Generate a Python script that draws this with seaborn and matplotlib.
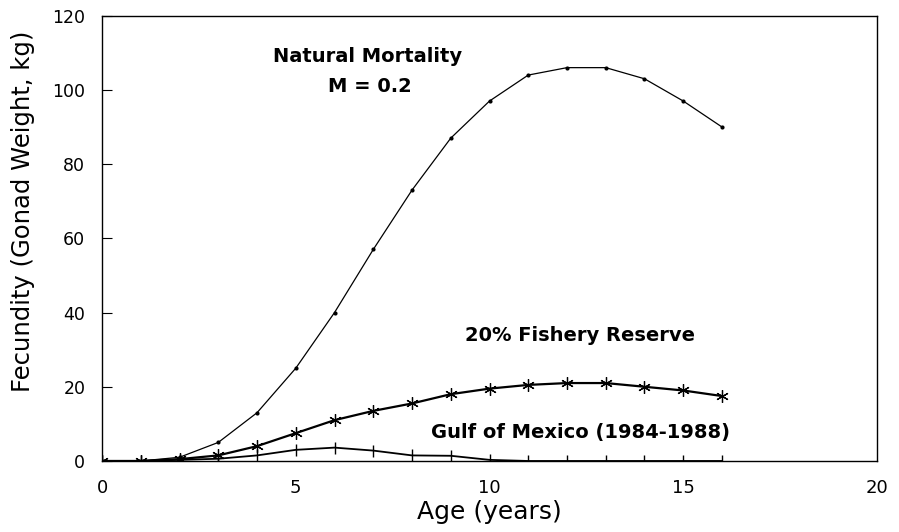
import numpy as np
import pandas as pd
import matplotlib
matplotlib.use("Agg")
import matplotlib.pyplot as plt
import seaborn as sns

# Ages 0-16 (years)
age = list(range(17))

# Fecundity (gonad weight, kg)
natural_mortality = [0, 0, 1, 5, 13, 25, 40, 57, 73, 87, 97, 104, 106, 106, 103, 97, 90]
fishery_reserve = [0, 0, 0.5, 1.5, 4, 7.5, 11, 13.5, 15.5, 18, 19.5, 20.5, 21, 21, 20, 19, 17.5]
gulf_of_mexico = [0, 0, 0.3, 0.6, 1.5, 3, 3.6, 2.8, 1.5, 1.4, 0.3, 0, 0, 0, 0, 0, 0]

x_ticks = [0, 5, 10, 15, 20]
y_ticks = [0, 20, 40, 60, 80, 100, 120]

sns.set_theme(style="white")
plt.rcParams["font.family"] = ["DejaVu Sans"]
plt.rcParams["text.color"] = "black"

fig = plt.figure(figsize=(8.99, 5.32), dpi=100)
ax = fig.add_axes([0.1135, 0.1335, 0.862, 0.837])

sns.lineplot(x=age, y=natural_mortality, ax=ax, color="black", linewidth=0.9,
             marker="o", markersize=3, markeredgewidth=0)
sns.lineplot(x=age, y=fishery_reserve, ax=ax, color="black", linewidth=1.6,
             marker=(6, 2, 0), markersize=9, markeredgewidth=0.9, markeredgecolor="black")
sns.lineplot(x=age, y=gulf_of_mexico, ax=ax, color="black", linewidth=1.3,
             marker="|", markersize=9, markeredgewidth=1.0, markeredgecolor="black")

ax.set_xlim(0, 20)
ax.set_ylim(0, 120)
ax.set_xticks(x_ticks)
ax.set_yticks(y_ticks)
ax.tick_params(axis="x", length=0, labelsize=13, pad=13, colors="black")
ax.tick_params(axis="y", direction="in", length=7, width=0.8, left=True,
               labelsize=12.5, pad=12, colors="black")

for side in ["left", "right", "top", "bottom"]:
    ax.spines[side].set_visible(True)
    ax.spines[side].set_color("black")
    ax.spines[side].set_linewidth(1.0)

ax.set_xlabel("Age (years)", fontsize=18, labelpad=2, color="black")
ax.set_ylabel("Fecundity (Gonad Weight, kg)", fontsize=17.5, color="black")
ax.yaxis.set_label_coords(-0.087, 0.56)

txt = dict(ha="center", va="center", fontsize=14, weight="bold", color="black")
ax.text(6.86, 109, "Natural Mortality", **txt)
ax.text(6.92, 100.9, "M = 0.2", **txt)
ax.text(12.34, 33.7, "20% Fishery Reserve", **txt)
ax.text(12.34, 7.8, "Gulf of Mexico (1984-1988)", **txt)

fig.savefig("out.png", dpi=100)
